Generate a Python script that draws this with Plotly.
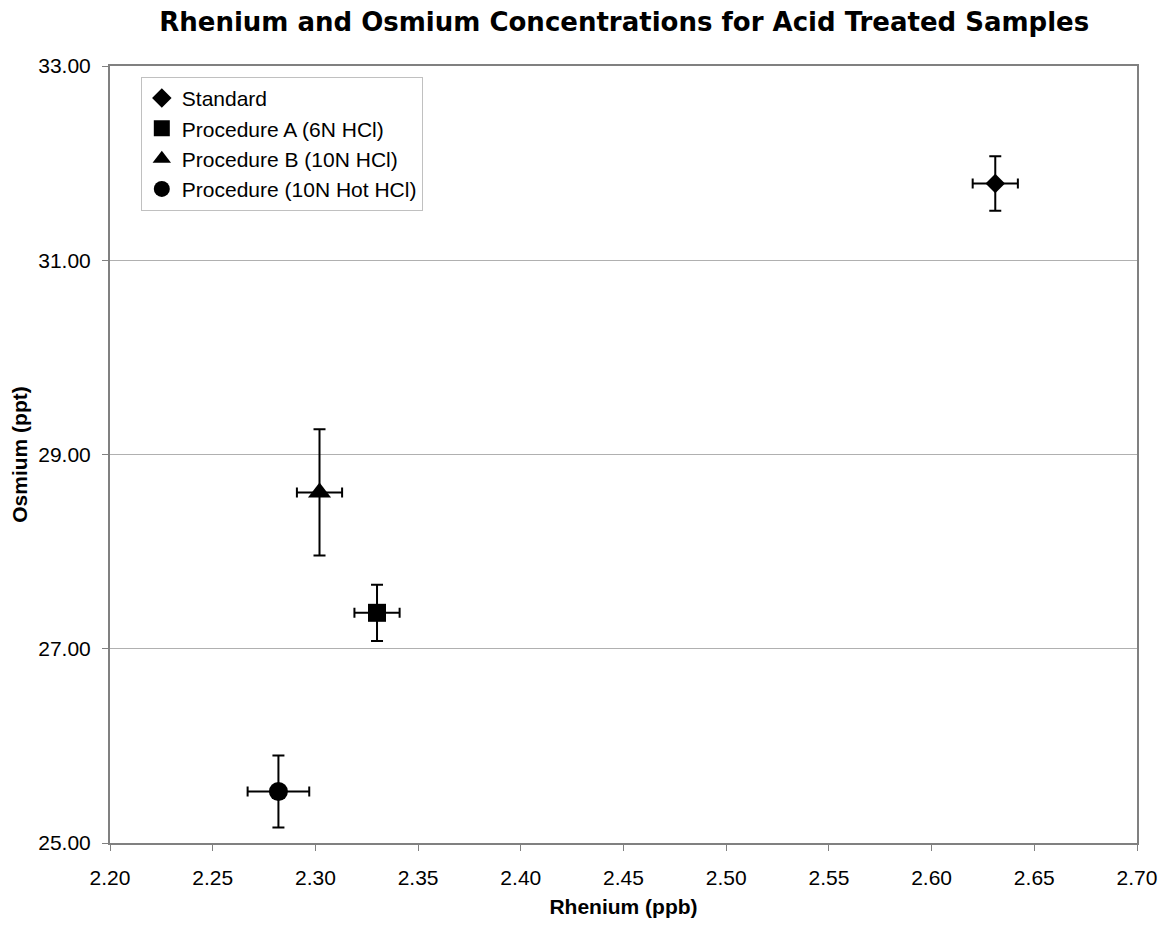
import plotly.graph_objects as go

# Sample groups and their measured concentrations
names = ["Standard", "Procedure A (6N HCl)", "Procedure B (10N HCl)", "Procedure (10N Hot HCl)"]
rhenium = [2.631, 2.330, 2.302, 2.282]        # ppb
rhenium_err = [0.011, 0.011, 0.011, 0.015]
osmium = [31.79, 27.37, 28.61, 25.53]         # ppt
osmium_err = [0.28, 0.29, 0.65, 0.37]
symbols = ["diamond", "square", "triangle-up", "circle"]
sizes = [15, 18, 20, 19]

y_ticks = [25, 27, 29, 31, 33]
x_ticks = [2.20, 2.25, 2.30, 2.35, 2.40, 2.45, 2.50, 2.55, 2.60, 2.65, 2.70]

fig = go.Figure()
for i, name in enumerate(names):
    fig.add_trace(go.Scatter(
        x=[rhenium[i]], y=[osmium[i]], name=name, mode="markers",
        marker=dict(symbol=symbols[i], size=sizes[i], color="black"),
        error_x=dict(type="constant", value=rhenium_err[i], color="black", thickness=2, width=5),
        error_y=dict(type="constant", value=osmium_err[i], color="black", thickness=2, width=6),
    ))

font_family = "Liberation Sans, Arial, sans-serif"
fig.update_layout(
    width=1169, height=931,
    margin=dict(l=110, r=30, t=66, b=88),
    paper_bgcolor="white", plot_bgcolor="white",
    font=dict(family=font_family, size=21, color="black"),
    title=dict(text="<b>Rhenium and Osmium Concentrations for Acid Treated Samples</b>",
               x=0.534, xanchor="center", y=0.976, yanchor="middle",
               font=dict(family="DejaVu Sans, sans-serif", size=26)),
    showlegend=True,
    legend=dict(x=0.03, y=0.986, xanchor="left", yanchor="top",
                bgcolor="white", bordercolor="#c0c0c0", borderwidth=1,
                font=dict(size=21), tracegroupgap=0, itemwidth=30),
    xaxis=dict(range=[2.20, 2.70], tickvals=x_ticks, tickformat=".2f",
               showgrid=False, zeroline=False,
               showline=True, linecolor="#808080", linewidth=2, mirror=True,
               ticks="outside", ticklen=6, tickcolor="#808080", ticklabelstandoff=9,
               title=dict(text="<b>Rhenium (ppb)</b>", font=dict(size=21), standoff=11)),
    yaxis=dict(range=[25, 33], tickvals=y_ticks, tickformat=".2f",
               showgrid=True, gridcolor="#b0b0b0", gridwidth=1, zeroline=False,
               showline=True, linecolor="#808080", linewidth=2, mirror=True,
               ticks="outside", ticklen=6, tickcolor="#808080", ticklabelstandoff=7,
               title=dict(text="<b>Osmium (ppt)</b>", font=dict(size=21), standoff=5)),
)

fig.write_html("out.html")
